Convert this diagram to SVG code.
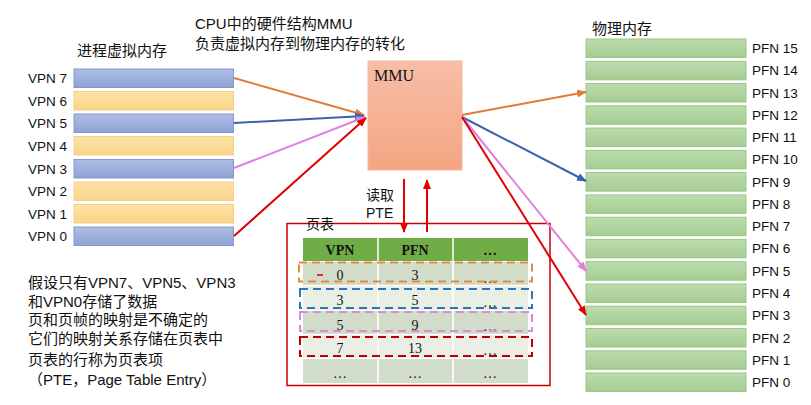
<svg xmlns="http://www.w3.org/2000/svg" width="811" height="405" viewBox="0 0 811 405">
<defs>
<linearGradient id="gBlue" x1="0" y1="0" x2="0" y2="1"><stop offset="0" stop-color="#aebde3"/><stop offset="1" stop-color="#8ea3d6"/></linearGradient>
<linearGradient id="gOr" x1="0" y1="0" x2="0" y2="1"><stop offset="0" stop-color="#fde3a6"/><stop offset="1" stop-color="#fbd488"/></linearGradient>
<linearGradient id="gGr" x1="0" y1="0" x2="0" y2="1"><stop offset="0" stop-color="#bcdcae"/><stop offset="1" stop-color="#a5cc92"/></linearGradient>
<linearGradient id="gMMU" x1="0" y1="0" x2="0" y2="1"><stop offset="0" stop-color="#f7bea6"/><stop offset="1" stop-color="#f4a583"/></linearGradient>
<marker id="aO" viewBox="0 0 10 8" refX="9" refY="4" markerWidth="5" markerHeight="4" orient="auto"><path d="M0,0 L10,4 L0,8 z" fill="#e07b39"/></marker>
<marker id="aB" viewBox="0 0 10 8" refX="9" refY="4" markerWidth="5" markerHeight="4" orient="auto"><path d="M0,0 L10,4 L0,8 z" fill="#3a62b0"/></marker>
<marker id="aP" viewBox="0 0 10 8" refX="9" refY="4" markerWidth="5" markerHeight="4" orient="auto"><path d="M0,0 L10,4 L0,8 z" fill="#e07fe0"/></marker>
<marker id="aR" viewBox="0 0 10 8" refX="9" refY="4" markerWidth="5" markerHeight="4" orient="auto"><path d="M0,0 L10,4 L0,8 z" fill="#e00000"/></marker>
</defs>
<style>
.t{font-family:"Liberation Sans","Noto Sans CJK SC",sans-serif;fill:#111}
.lab{font-size:13.5px;text-anchor:end}
.plab{font-size:13.5px}
.cj{font-size:15px}
.vb{fill:url(#gBlue);stroke:#8197cf;stroke-width:1}
.vo{fill:url(#gOr);stroke:#f5cf86;stroke-width:1}
.pg{fill:url(#gGr);stroke:#9cc587;stroke-width:1}
.s{font-family:"Liberation Serif","Noto Serif CJK SC",serif;fill:#111}
.th{font-size:14px;font-weight:bold;text-anchor:middle}
.td{font-size:14px;text-anchor:middle}
.c{fill:none;stroke-width:2}
.dk{fill:#d1ddca}
.lt{fill:#e9efe5}
.dash{fill:none;stroke-width:2;stroke-dasharray:8 5}
</style>
<rect width="811" height="405" fill="#ffffff"/>

<text class="t cj" x="77" y="56">进程虚拟内存</text>
<text class="t cj" x="195" y="29">CPU中的硬件结构MMU</text>
<text class="t cj" x="195" y="49">负责虚拟内存到物理内存的转化</text>
<text class="t cj" x="592" y="34">物理内存</text>

<g id="virtual-memory">
<g id="vpn7"><rect class="vb" x="74" y="69" width="159.5" height="18.5"/><text class="t lab" x="67" y="83">VPN 7</text></g>
<g id="vpn6"><rect class="vo" x="74" y="91.5" width="159.5" height="18.5"/><text class="t lab" x="67" y="105.5">VPN 6</text></g>
<g id="vpn5"><rect class="vb" x="74" y="114" width="159.5" height="18.5"/><text class="t lab" x="67" y="128">VPN 5</text></g>
<g id="vpn4"><rect class="vo" x="74" y="136.5" width="159.5" height="18.5"/><text class="t lab" x="67" y="150.5">VPN 4</text></g>
<g id="vpn3"><rect class="vb" x="74" y="159.5" width="159.5" height="18.5"/><text class="t lab" x="67" y="173.5">VPN 3</text></g>
<g id="vpn2"><rect class="vo" x="74" y="182" width="159.5" height="18.5"/><text class="t lab" x="67" y="196">VPN 2</text></g>
<g id="vpn1"><rect class="vo" x="74" y="204.5" width="159.5" height="18.5"/><text class="t lab" x="67" y="218.5">VPN 1</text></g>
<g id="vpn0"><rect class="vb" x="74" y="227" width="159.5" height="18.5"/><text class="t lab" x="67" y="241">VPN 0</text></g>
</g>

<g id="mmu">
<rect x="368" y="61" width="94" height="109" fill="url(#gMMU)" stroke="#f3b89e" stroke-width="1"/>
<text class="s" x="374" y="81" font-size="16">MMU</text>
</g>

<g id="physical-memory">
<g id="pfn15"><rect class="pg" x="586" y="39" width="160" height="18.5"/><text class="t plab" x="752" y="53">PFN 15</text></g>
<g id="pfn14"><rect class="pg" x="586" y="61.3" width="160" height="18.5"/><text class="t plab" x="752" y="75.3">PFN 14</text></g>
<g id="pfn13"><rect class="pg" x="586" y="83.5" width="160" height="18.5"/><text class="t plab" x="752" y="97.5">PFN 13</text></g>
<g id="pfn12"><rect class="pg" x="586" y="105.8" width="160" height="18.5"/><text class="t plab" x="752" y="119.8">PFN 12</text></g>
<g id="pfn11"><rect class="pg" x="586" y="128.1" width="160" height="18.5"/><text class="t plab" x="752" y="142.1">PFN 11</text></g>
<g id="pfn10"><rect class="pg" x="586" y="150.4" width="160" height="18.5"/><text class="t plab" x="752" y="164.4">PFN 10</text></g>
<g id="pfn9"><rect class="pg" x="586" y="172.6" width="160" height="18.5"/><text class="t plab" x="752" y="186.6">PFN 9</text></g>
<g id="pfn8"><rect class="pg" x="586" y="194.9" width="160" height="18.5"/><text class="t plab" x="752" y="208.9">PFN 8</text></g>
<g id="pfn7"><rect class="pg" x="586" y="217.2" width="160" height="18.5"/><text class="t plab" x="752" y="231.2">PFN 7</text></g>
<g id="pfn6"><rect class="pg" x="586" y="239.4" width="160" height="18.5"/><text class="t plab" x="752" y="253.4">PFN 6</text></g>
<g id="pfn5"><rect class="pg" x="586" y="261.7" width="160" height="18.5"/><text class="t plab" x="752" y="275.7">PFN 5</text></g>
<g id="pfn4"><rect class="pg" x="586" y="284" width="160" height="18.5"/><text class="t plab" x="752" y="298">PFN 4</text></g>
<g id="pfn3"><rect class="pg" x="586" y="306.2" width="160" height="18.5"/><text class="t plab" x="752" y="320.2">PFN 3</text></g>
<g id="pfn2"><rect class="pg" x="586" y="328.5" width="160" height="18.5"/><text class="t plab" x="752" y="342.5">PFN 2</text></g>
<g id="pfn1"><rect class="pg" x="586" y="350.8" width="160" height="18.5"/><text class="t plab" x="752" y="364.8">PFN 1</text></g>
<g id="pfn0"><rect class="pg" x="586" y="373" width="160" height="18.5"/><text class="t plab" x="752" y="387">PFN 0</text></g>
</g>

<g id="page-table">
<rect x="287" y="223.5" width="263" height="162" fill="#ffffff" stroke="#c80000" stroke-width="1.5"/>
<text class="t" x="306" y="229" font-size="14">页表</text>
<rect x="303" y="238" width="225" height="23" fill="#70ad47"/>
<rect class="dk" x="303" y="262" width="225" height="23"/>
<rect class="lt" x="303" y="286" width="225" height="24"/>
<rect class="dk" x="303" y="311" width="225" height="23"/>
<rect class="lt" x="303" y="335" width="225" height="23"/>
<rect class="dk" x="303" y="359" width="225" height="24"/>
<line x1="378" y1="238" x2="378" y2="383" stroke="#ffffff" stroke-width="1.5"/>
<line x1="453" y1="238" x2="453" y2="383" stroke="#ffffff" stroke-width="1.5"/>
<text class="s th" x="340" y="255">VPN</text>
<text class="s th" x="415" y="255">PFN</text>
<text class="s th" x="490" y="255">…</text>
<line x1="317" y1="275" x2="323" y2="275" stroke="#e03030" stroke-width="2"/>
<text class="s td" x="340" y="280">0</text><text class="s td" x="415" y="280">3</text><text class="s td" x="490" y="283">…</text>
<text class="s td" x="340" y="305">3</text><text class="s td" x="415" y="305">5</text><text class="s td" x="490" y="307">…</text>
<text class="s td" x="340" y="330">5</text><text class="s td" x="415" y="330">9</text><text class="s td" x="490" y="331">…</text>
<text class="s td" x="340" y="353">7</text><text class="s td" x="415" y="353">13</text><text class="s td" x="490" y="355">…</text>
<text class="s td" x="340" y="378">…</text><text class="s td" x="415" y="378">…</text><text class="s td" x="490" y="378">…</text>
<rect class="dash" x="299" y="262.5" width="233" height="19" stroke="#e8893a"/>
<rect class="dash" x="300" y="289" width="232" height="19" stroke="#2e75b6"/>
<rect class="dash" x="300" y="312" width="232" height="19" stroke="#d98ad9"/>
<rect class="dash" x="300" y="337" width="232" height="19" stroke="#c00000"/>
</g>

<g id="notes">
<text class="t cj" x="28" y="288">假设只有VPN7、VPN5、VPN3</text>
<text class="t cj" x="28" y="307">和VPN0存储了数据</text>
<text class="t cj" x="28" y="325">页和页帧的映射是不确定的</text>
<text class="t cj" x="28" y="344">它们的映射关系存储在页表中</text>
<text class="t cj" x="28" y="365">页表的行称为页表项</text>
<text class="t cj" x="28" y="385">（PTE，Page Table Entry）</text>
<text class="t" x="366" y="200" font-size="14">读取</text>
<text class="t" x="366" y="218" font-size="14">PTE</text>
</g>

<g id="connectors">
<line class="c" x1="234" y1="78" x2="364" y2="115" stroke="#e07b39" marker-end="url(#aO)"/>
<line class="c" x1="234" y1="123" x2="364" y2="116" stroke="#3a62b0" marker-end="url(#aB)"/>
<line class="c" x1="234" y1="168" x2="365" y2="117" stroke="#e07fe0" marker-end="url(#aP)"/>
<line class="c" x1="234" y1="236" x2="366" y2="118" stroke="#e00000" marker-end="url(#aR)"/>
<line class="c" x1="462" y1="115" x2="586" y2="92" stroke="#e07b39" marker-end="url(#aO)"/>
<line class="c" x1="462" y1="117" x2="586" y2="181" stroke="#3a62b0" marker-end="url(#aB)"/>
<line class="c" x1="463" y1="118" x2="586" y2="271" stroke="#e07fe0" marker-end="url(#aP)"/>
<line class="c" x1="462" y1="117" x2="586" y2="315" stroke="#e00000" marker-end="url(#aR)"/>
<line class="c" x1="404" y1="179" x2="404" y2="232" stroke="#e00000" marker-end="url(#aR)"/>
<line class="c" x1="427" y1="232" x2="427" y2="180" stroke="#e00000" marker-end="url(#aR)"/>
</g>
</svg>
